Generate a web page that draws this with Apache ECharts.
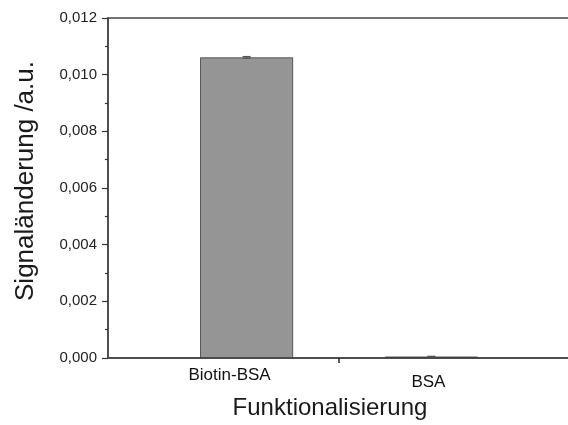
<!DOCTYPE html>
<html>
<head>
<meta charset="utf-8">
<script src="https://cdn.jsdelivr.net/npm/echarts@6/dist/echarts.min.js"></script>
<style>html,body{margin:0;padding:0;background:#fff}#c{width:568px;height:425px}</style>
</head>
<body>
<div id="c"></div>
<script>
var categories = ['Biotin-BSA', 'BSA'];
var positions = [1, 2];
var values = [0.01061, 0.00005];
var errors = [0.00003, 0.00001];

var chart = echarts.init(document.getElementById('c'));
var font = 'Liberation Sans, Arial, sans-serif';
var barData = positions.map(function (p, i) { return [p, values[i]]; });
var errData = positions.map(function (p, i) { return [p, values[i] - errors[i], values[i] + errors[i]]; });

chart.setOption({
  animation: false,
  grid: { left: 108, top: 18, width: 462, height: 340, outerBoundsMode: 'none', containLabel: false, show: true, borderColor: '#444', borderWidth: 1.5, backgroundColor: 'transparent' },
  xAxis: {
    type: 'value', min: 0.25, max: 2.75,
    name: 'Funktionalisierung', nameLocation: 'middle', nameGap: 38, nameMoveOverlap: false,
    nameTextStyle: { fontFamily: font, fontSize: 24, color: '#1a1a1a', padding: [0, 18, 0, 0] },
    axisLine: { show: true, lineStyle: { color: '#444', width: 1.5 } },
    axisTick: { show: true, inside: false, length: 5, customValues: [1.5], lineStyle: { color: '#222', width: 1.5 } },
    axisLabel: {
      customValues: positions, fontFamily: font, fontSize: 17, color: '#111', margin: 9,
      formatter: function (v) { var i = positions.indexOf(v); return i === 0 ? '{a|' + categories[0] + '}' : (i === 1 ? '{b|' + categories[1] + '}' : ''); },
      rich: {
        a: { fontFamily: font, fontSize: 17, color: '#111', padding: [0, 34, 0, 0] },
        b: { fontFamily: font, fontSize: 17, color: '#111', padding: [7, 6, 0, 0] }
      }
    },
    splitLine: { show: false }
  },
  yAxis: {
    type: 'value', min: 0, max: 0.012, interval: 0.002,
    name: 'Signaländerung /a.u.', nameLocation: 'middle', nameGap: 69, nameMoveOverlap: false,
    nameTextStyle: { fontFamily: font, fontSize: 26, color: '#1a1a1a', padding: [0, 0, 0, 14] },
    axisLine: { show: true, lineStyle: { color: '#444', width: 1.5 } },
    axisTick: { show: true, inside: false, length: 6, lineStyle: { color: '#333', width: 1.2 } },
    minorTick: { show: true, splitNumber: 2, length: 3, lineStyle: { color: '#333', width: 1.2 } },
    axisLabel: {
      fontFamily: font, fontSize: 15, color: '#222', margin: 11,
      formatter: function (v) { return v.toFixed(3).replace('.', ','); }
    },
    splitLine: { show: false }
  },
  series: [
    {
      type: 'bar', data: barData, barWidth: 93,
      itemStyle: {
        color: function (p) { return p.dataIndex === 0 ? '#959595' : '#6b3b3b'; },
        borderColor: '#3c3c3c', borderWidth: 0.8
      }
    },
    {
      type: 'custom', data: errData,
      renderItem: function (params, api) {
        var x = api.value(0);
        var lo = api.coord([x, api.value(1)]);
        var hi = api.coord([x, api.value(2)]);
        var hw = 4;
        var st = { stroke: '#555', lineWidth: 1.2 };
        return { type: 'group', children: [
          { type: 'line', shape: { x1: lo[0], y1: lo[1], x2: hi[0], y2: hi[1] }, style: st },
          { type: 'line', shape: { x1: lo[0] - hw, y1: lo[1], x2: lo[0] + hw, y2: lo[1] }, style: st },
          { type: 'line', shape: { x1: hi[0] - hw, y1: hi[1], x2: hi[0] + hw, y2: hi[1] }, style: st }
        ] };
      },
      z: 5
    }
  ]
});
</script>
</body>
</html>
